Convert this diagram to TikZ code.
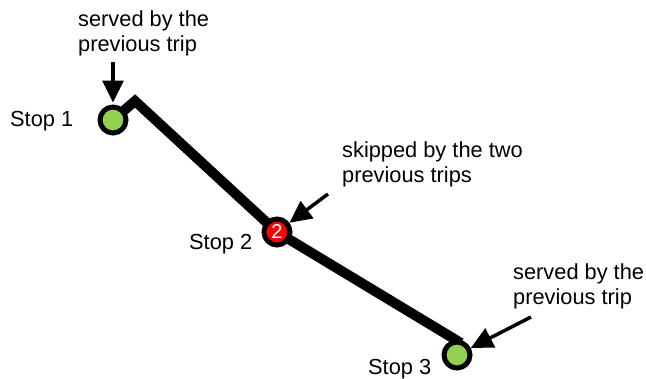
\documentclass[tikz,border=0pt]{standalone}
\usepackage{fontspec}
\setmainfont{Liberation Sans}
\usetikzlibrary{arrows.meta}
\definecolor{stopgreen}{RGB}{146,208,80}

\begin{document}
\begin{tikzpicture}[x=1pt,y=-1pt,
    stop/.style={circle,draw=black,line width=5pt,minimum size=26pt,inner sep=0pt},
    lbl/.style={font=\fontsize{21.8}{25}\selectfont,inner sep=0pt},
    note/.style={lbl,align=left,anchor=north west},
    callout/.style={line width=3.5pt,-{Triangle[length=22pt,width=21pt]}},
    route/.style={line width=10pt}]

    \useasboundingbox (0,0) rectangle (646,378);

    % stop positions (pixel grid of the reference)
    \coordinate (p1) at (113,120);
    \coordinate (p2) at (277,232);
    \coordinate (p3) at (457,355);
    \coordinate (bend) at (135,101);
    \coordinate (rend) at (461,343);

    % the route
    \draw[route] (p1) -- (bend) -- (p2) -- (rend);

    % the stops
    \node[stop,fill=stopgreen] (s1) at (p1) {};
    \node[stop,fill=red,text=white,font=\fontsize{20}{20}\selectfont] (s2) at (p2) {2};
    \node[stop,fill=stopgreen] (s3) at (p3) {};

    % stop names
    \node[lbl,anchor=base west] (n1) at (10,126) {Stop 1};
    \node[lbl,anchor=base west] (n2) at (189,249) {Stop 2};
    \node[lbl,anchor=base west] (n3) at (368,374) {Stop 3};

    % notes
    \node[note] (t1) at (78,11) {served by the\\previous trip};
    \node[note] (t2) at (342,142) {skipped by the two\\previous trips};
    \node[note] (t3) at (513,263) {served by the\\previous trip};

    % arrows to the stops
    \coordinate (a1) at (113,62);
    \coordinate (a2) at (328,194);
    \coordinate (a3) at (531,317);
    \draw[callout,shorten >=2pt] (a1) -- (s1);
    \draw[callout] (a2) -- (s2);
    \draw[callout] (a3) -- (s3);

\end{tikzpicture}
\end{document}
